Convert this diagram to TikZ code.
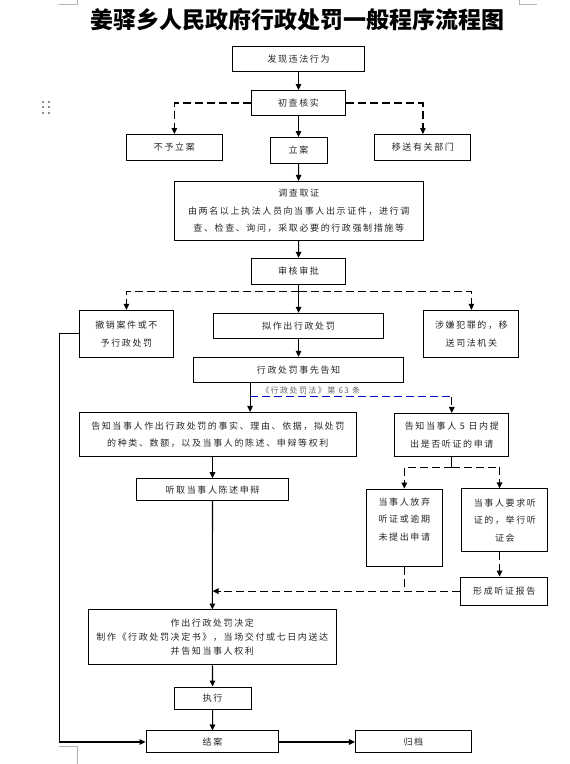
\documentclass[tikz,border=0pt]{standalone}
\usepackage{fontspec}
\usetikzlibrary{arrows.meta}
\newfontfamily\cjk[LetterSpace=18]{Noto Sans CJK SC}
\newfontfamily\cjkhead{Noto Sans CJK SC}

\begin{document}
\begin{tikzpicture}[x=1pt, y=-1pt, >={Triangle[length=6pt,width=5.5pt]},
	main/.style = {draw, line width=1pt, inner sep=0pt, align=center, text=black!85, font=\cjk\fontsize{9}{17.5}\selectfont},
	flow/.style = {line width=1.1pt, ->},
	dashflow/.style = {line width=1.2pt, draw=black, dash pattern=on 8pt off 4pt, ->},
	cropline/.style = {draw=black!30, line width=0.7pt}]
	\path[fill=white] (0,0) rectangle (570,764);
	
	% page marks
	\draw[cropline] (59,4) -- (77,4) -- (77,0);
	\draw[cropline] (520,0) -- (520,4) -- (537,4);
	\draw[cropline] (59,747) -- (77,747) -- (77,764);
	\foreach \dx in {43.3,48.7} \foreach \dy in {101.3,106.7,112.3}
		\fill[black!45] (\dx-1,\dy-1) rectangle (\dx+1,\dy+1);
	
	\node[font=\cjkhead\bfseries\fontsize{23}{23}\selectfont] (title) at (298,19) {姜驿乡人民政府行政处罚一般程序流程图};
	
	\node[main, minimum width=133, minimum height=25] (1) at (298.8,58.8) {发现违法行为};
	\node[main, minimum width=95, minimum height=25] (2) at (298.8,102.8) {初查核实};
	\node[main, minimum width=96, minimum height=26] (3) at (174.5,147.3) {不予立案};
	\node[main, minimum width=57, minimum height=26] (4) at (298.8,150.3) {立案};
	\node[main, minimum width=96, minimum height=26] (5) at (423.3,147.3) {移送有关部门};
	\node[main, minimum width=249, minimum height=59] (6) at (299,210.7) {调查取证\\由两名以上执法人员向当事人出示证件，进行调\\查、检查、询问，采取必要的行政强制措施等};
	\node[main, minimum width=95, minimum height=26] (7) at (298.8,271.3) {审核审批};
	\node[main, minimum width=94, minimum height=47] (8) at (126.5,333.8) {撤销案件或不\\予行政处罚};
	\node[main, minimum width=171, minimum height=25] (9) at (298.8,325.8) {拟作出行政处罚};
	\node[main, minimum width=95, minimum height=47] (10) at (471.8,333.8) {涉嫌犯罪的，移\\送司法机关};
	\node[main, minimum width=211, minimum height=25] (11) at (298.8,369.8) {行政处罚事先告知};
	\node[main, minimum width=277, minimum height=44] (12) at (218,434.5) {告知当事人作出行政处罚的事实、理由、依据，拟处罚\\的种类、数额，以及当事人的陈述、申辩等权利};
	\node[main, minimum width=114, minimum height=43] (13) at (452.2,435) {告知当事人 5 日内提\\出是否听证的申请};
	\node[main, minimum width=152, minimum height=22] (14) at (212.7,489.8) {听取当事人陈述申辩};
	\node[main, minimum width=76, minimum height=77] (15) at (404.7,527.7) {\parbox[c][60pt][t]{74pt}{\centering 当事人放弃\\听证或逾期\\未提出申请}};
	\node[main, minimum width=86, minimum height=63] (16) at (505.3,520.5) {当事人要求听\\证的，举行听\\证会};
	\node[main, minimum width=87, minimum height=28] (17) at (504.7,591.3) {形成听证报告};
	\node[main, minimum width=248, minimum height=55, font=\cjk\fontsize{9}{14}\selectfont] (18) at (212.5,637.7) {作出行政处罚决定\\制作《行政处罚决定书》，当场交付或七日内送达\\并告知当事人权利};
	\node[main, minimum width=77, minimum height=22] (19) at (212.8,698.3) {执行};
	\node[main, minimum width=133, minimum height=22] (20) at (212.7,742.3) {结案};
	\node[main, minimum width=116, minimum height=22] (21) at (413.8,742.3) {归档};
	
	\coordinate (s1) at (298.8,291.3);
	\coordinate (law) at (250.3,396.7);
	\coordinate (h) at (452.2,467.3);
	\coordinate (hr) at (500,467.3);
	\coordinate (back) at (59.3,333.8);
	
	\node[anchor=west, text=black!60, font=\cjk\fontsize{8}{8}\selectfont] (lawref) at (258,390) {《行政处罚法》第 63 条};
	
	\draw[flow] (1) -- (2);
	\draw[flow] (2) -- (4);
	\draw[dashflow] (2) -| (3);
	\draw[dashflow] (2) -| (5);
	\draw[flow] (4) -- (6);
	\draw[flow] (6) -- (7);
	\draw[flow] (7) -- (9);
	\draw[dashflow] (s1) -| (8);
	\draw[dashflow] (s1) -| (10);
	\draw[flow] (9) -- (11);
	\draw[flow] (11.south -| law) -- (12.north -| law);
	\draw[line width=1.2pt, draw=blue!85!black, dash pattern=on 8pt off 4pt] (law) -- (law -| 13);
	\draw[dashflow] (law -| 13) -- (13);
	\draw[line width=1.1pt] (13) -- (h);
	\draw[dashflow] (h) -| (15);
	\draw[dashflow] (h) -| (16.north -| hr);
	\draw[dashflow] (16.south -| hr) -- (17.north -| hr);
	\draw[dashflow, -] (15) -- (15 |- 17);
	\draw[dashflow] (17) -- (17 -| 14);
	\draw[flow] (12.south -| 14) -- (14);
	\draw[flow] (14) -- (18);
	\draw[flow] (18) -- (19);
	\draw[flow] (19) -- (20);
	\draw[flow] (20) -- (21);
	\draw[flow] (8) -- (back) |- (20);
	
\end{tikzpicture}
\end{document}
